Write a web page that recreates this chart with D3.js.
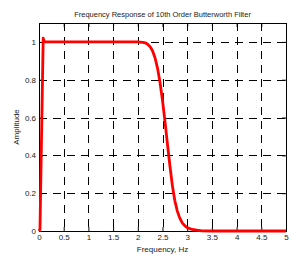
<!DOCTYPE html>
<html>
<head>
<meta charset="utf-8">
<script src="https://cdn.jsdelivr.net/npm/d3@7"></script>
<style>
  body { margin: 0; background: #fff; }
  text { font-family: "Liberation Sans", Arial, sans-serif; fill: #222; }
</style>
</head>
<body>
<div id="chart"></div>
<script>
// frequency (Hz) / amplitude samples
var freq = [0, 0.02, 0.085, 0.1, 0.13, 0.5, 1, 1.5, 2, 2.1, 2.15, 2.2, 2.25, 2.3, 2.35, 2.4, 2.45, 2.5, 2.55, 2.6, 2.65, 2.7, 2.75, 2.8, 2.85, 2.9, 2.95, 3.0, 3.1, 3.2, 3.3, 3.5, 4, 4.5, 5];
var amp  = [0, 0.01, 1.02, 1.005, 1.0, 1.0, 1.0, 1.0, 1.0, 0.998, 0.995, 0.988, 0.975, 0.952, 0.915, 0.86, 0.785, 0.69, 0.58, 0.46, 0.345, 0.24, 0.16, 0.105, 0.068, 0.043, 0.028, 0.018, 0.008, 0.004, 0.001, 0, 0, 0, 0];
var xTicks = [0, 0.5, 1, 1.5, 2, 2.5, 3, 3.5, 4, 4.5, 5];
var yTicks = [0, 0.2, 0.4, 0.6, 0.8, 1];

var width = 297, height = 262;
var margin = {top: 23, right: 11, bottom: 31, left: 39};
var drawWidth = width - margin.left - margin.right;
var drawHeight = height - margin.top - margin.bottom;

var svg = d3.select('#chart').append('svg')
  .attr('width', width)
  .attr('height', height);

var g = svg.append('g')
  .attr('transform', 'translate(' + margin.left + ',' + margin.top + ')');

var x = d3.scaleLinear().domain([0, 5]).range([0, drawWidth]);
var y = d3.scaleLinear().domain([0, 1.1]).range([drawHeight, 0]);

// dashed grid
g.selectAll('.vgrid').data(xTicks.slice(1, -1)).enter().append('line')
  .attr('x1', function(d) { return Math.round(x(d)) + 0.5; })
  .attr('x2', function(d) { return Math.round(x(d)) + 0.5; })
  .attr('y1', 0).attr('y2', drawHeight)
  .attr('stroke', '#000').attr('stroke-dasharray', '8,6');
g.selectAll('.hgrid').data(yTicks.slice(1)).enter().append('line')
  .attr('y1', function(d) { return Math.round(y(d)) + 0.5; })
  .attr('y2', function(d) { return Math.round(y(d)) + 0.5; })
  .attr('x1', 0).attr('x2', drawWidth)
  .attr('stroke', '#000').attr('stroke-dasharray', '8,6');

// axes with inward ticks, mirrored on top/right
var fmt = function(d) { return d3.format('')(d); };
g.append('g')
  .attr('transform', 'translate(0,' + drawHeight + ')')
  .call(d3.axisBottom(x).tickValues(xTicks).tickFormat(fmt).tickSizeInner(-4).tickSizeOuter(0).tickPadding(3));
g.append('g')
  .call(d3.axisLeft(y).tickValues(yTicks).tickFormat(fmt).tickSizeInner(-4).tickSizeOuter(0).tickPadding(3));
g.append('g')
  .call(d3.axisTop(x).tickValues(xTicks).tickFormat('').tickSizeInner(-4).tickSizeOuter(0));
g.append('g')
  .attr('transform', 'translate(' + drawWidth + ',0)')
  .call(d3.axisRight(y).tickValues(yTicks).tickFormat('').tickSizeInner(-4).tickSizeOuter(0));

svg.selectAll('.tick text').style('font-size', '8px').style('fill', '#222');
svg.selectAll('.domain').remove();

// frame
g.append('rect')
  .attr('x', 0.5).attr('y', 0.5)
  .attr('width', drawWidth).attr('height', drawHeight)
  .attr('fill', 'none').attr('stroke', '#000');

// response curve
var pts = freq.map(function(f, i) { return [f, amp[i]]; });
g.append('path')
  .datum(pts)
  .attr('fill', 'none')
  .attr('stroke', '#ff0000')
  .attr('stroke-width', 2.8)
  .attr('stroke-linejoin', 'round')
  .attr('d', d3.line()
    .x(function(d) { return x(d[0]); })
    .y(function(d) { return y(d[1]); }));

svg.append('text')
  .attr('x', margin.left + drawWidth / 2).attr('y', 17)
  .attr('text-anchor', 'middle').style('font-size', '7.5px')
  .text('Frequency Response of 10th Order Butterworth Filter');

svg.append('text')
  .attr('x', margin.left + drawWidth / 2).attr('y', 252)
  .attr('text-anchor', 'middle').style('font-size', '8px')
  .text('Frequency, Hz');

svg.append('text')
  .attr('transform', 'translate(19,' + (margin.top + drawHeight / 2) + ') rotate(-90)')
  .attr('text-anchor', 'middle').style('font-size', '8px')
  .text('Amplitude');
</script>
</body>
</html>
